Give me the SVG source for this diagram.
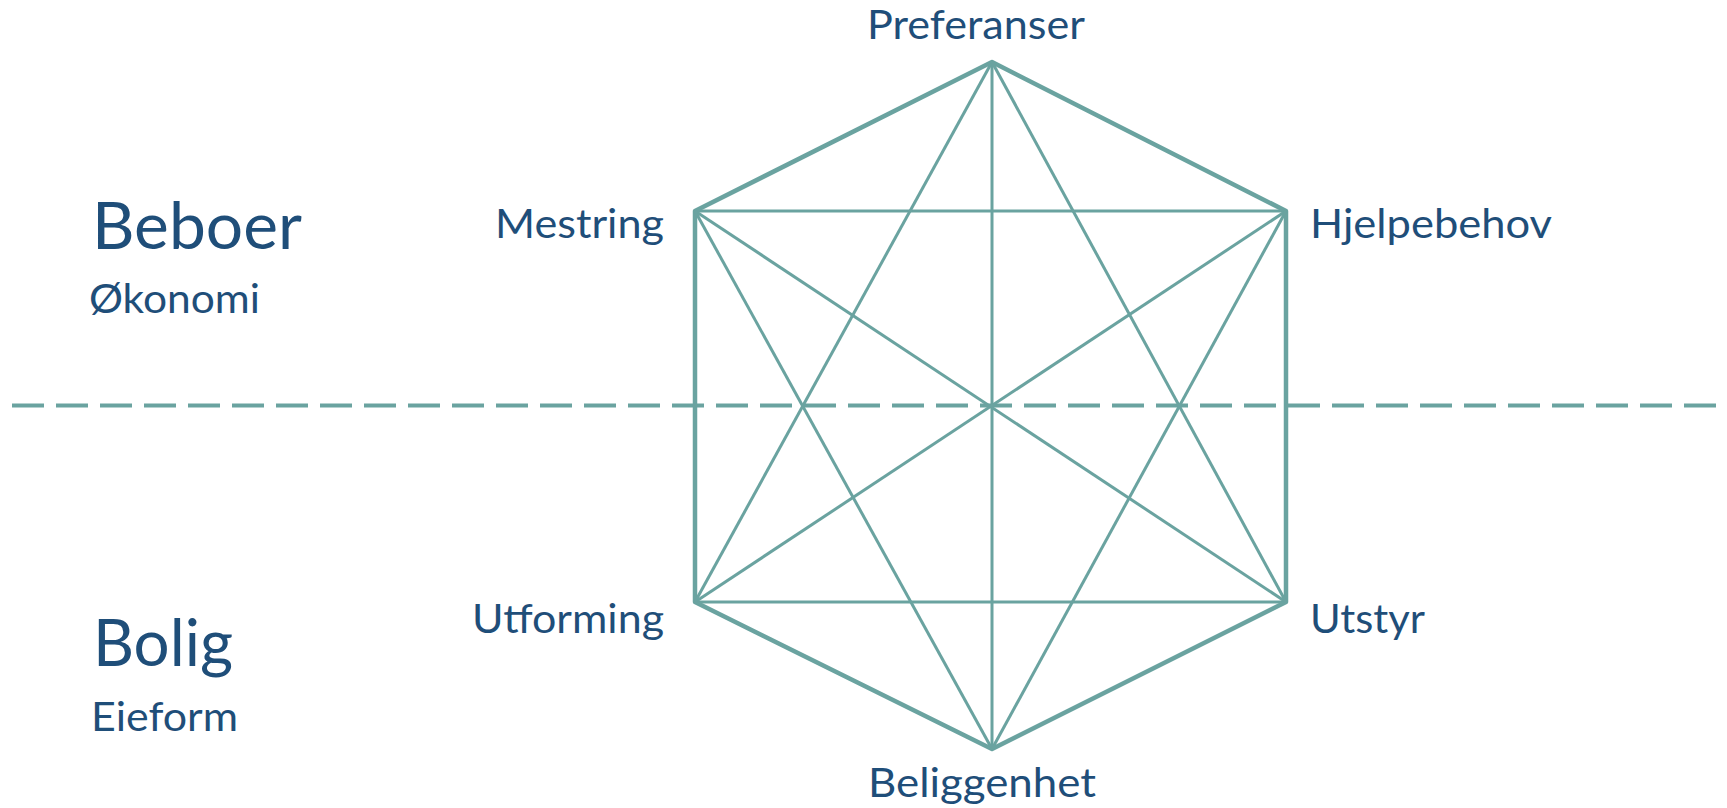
<svg xmlns="http://www.w3.org/2000/svg" width="1727" height="808" viewBox="0 0 1727 808">
<style>
.lbl{font-family:Lato,"Open Sans","Liberation Sans",sans-serif;fill:#1f4e79;font-size:41px}
.big{font-size:65px}
.outer{stroke:#6aa3a0;stroke-width:4.5;fill:none;stroke-linejoin:round}
.inner{stroke:#6aa3a0;stroke-width:3;fill:none}
.divider{stroke:#6aa3a0;stroke-width:4;stroke-dasharray:32 12}
</style>
<rect width="1727" height="808" fill="#ffffff"/>
<line class="divider" x1="12" y1="405.5" x2="1716" y2="405.5"/>
<g id="connectors">
<polygon class="outer" points="992,62 1286,211 1286,602 992,749 695,602 695,211"/>
<line class="inner" x1="992" y1="62" x2="992" y2="749"/>
<line class="inner" x1="695" y1="211" x2="1286" y2="211"/>
<line class="inner" x1="695" y1="602" x2="1286" y2="602"/>
<line class="inner" x1="695" y1="211" x2="1286" y2="602"/>
<line class="inner" x1="1286" y1="211" x2="695" y2="602"/>
<line class="inner" x1="992" y1="62" x2="695" y2="602"/>
<line class="inner" x1="992" y1="62" x2="1286" y2="602"/>
<line class="inner" x1="992" y1="749" x2="695" y2="211"/>
<line class="inner" x1="992" y1="749" x2="1286" y2="211"/>
</g>
<g id="node-preferanser"><text class="lbl" x="867" y="39" textLength="218" lengthAdjust="spacingAndGlyphs">Preferanser</text></g>
<g id="node-mestring"><text class="lbl" x="495" y="238" textLength="169" lengthAdjust="spacingAndGlyphs">Mestring</text></g>
<g id="node-hjelpebehov"><text class="lbl" x="1310" y="238" textLength="242" lengthAdjust="spacingAndGlyphs">Hjelpebehov</text></g>
<g id="node-utforming"><text class="lbl" x="472" y="633" textLength="192" lengthAdjust="spacingAndGlyphs">Utforming</text></g>
<g id="node-utstyr"><text class="lbl" x="1310" y="633" textLength="115" lengthAdjust="spacingAndGlyphs">Utstyr</text></g>
<g id="node-beliggenhet"><text class="lbl" x="868" y="797" textLength="228" lengthAdjust="spacingAndGlyphs">Beliggenhet</text></g>
<g id="node-beboer">
<text class="lbl big" x="92" y="249" textLength="210" lengthAdjust="spacingAndGlyphs">Beboer</text>
<text class="lbl" x="89" y="313" textLength="171" lengthAdjust="spacingAndGlyphs">Økonomi</text>
</g>
<g id="node-bolig">
<text class="lbl big" x="93" y="666" textLength="140" lengthAdjust="spacingAndGlyphs">Bolig</text>
<text class="lbl" x="91" y="731" textLength="147" lengthAdjust="spacingAndGlyphs">Eieform</text>
</g>
</svg>
